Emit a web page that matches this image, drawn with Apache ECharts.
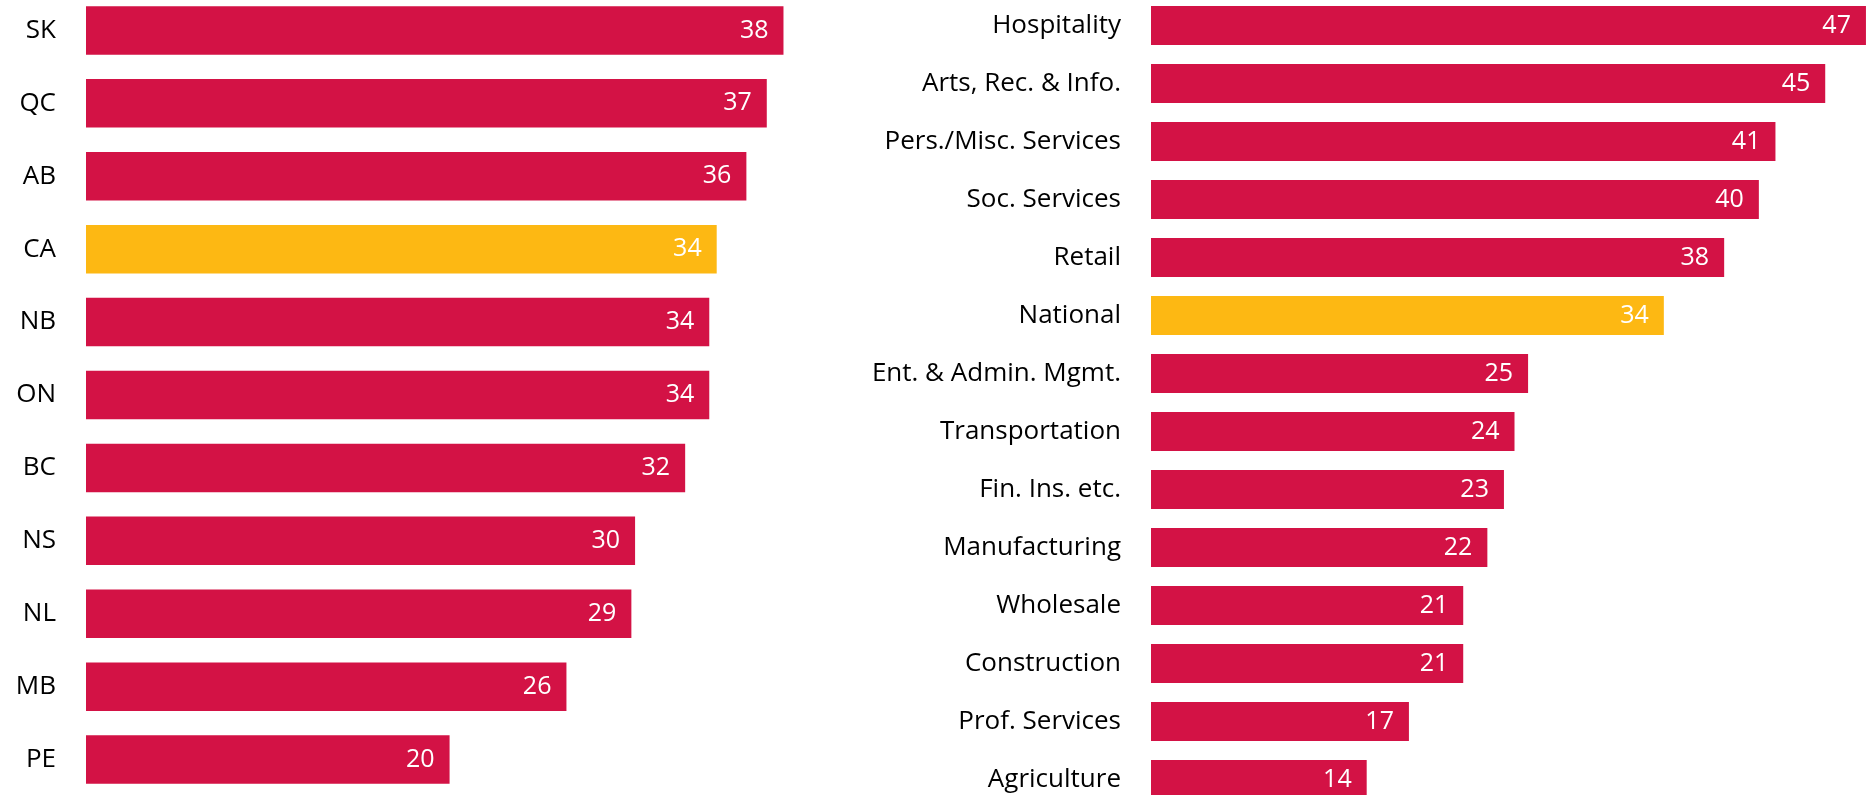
<!DOCTYPE html>
<html>
<head>
<meta charset="utf-8">
<script src="https://cdn.jsdelivr.net/npm/echarts@6/dist/echarts.min.js"></script>
<style>
  html, body { margin: 0; padding: 0; background: #fff; overflow: hidden; }
  /* canvas is taller than the window so the outer bars can be cut at the edges */
  #chart { position: relative; top: -20px; width: 1875px; height: 840px; }
</style>
</head>
<body>
<div id="chart"></div>
<script>
// left panel: provinces (CA = national average)
const provinces = ["SK", "QC", "AB", "CA", "NB", "ON", "BC", "NS", "NL", "MB", "PE"]
const provinceValues = [37.6, 36.7, 35.6, 34.0, 33.6, 33.6, 32.3, 29.6, 29.4, 25.9, 19.6]

// right panel: industries
const industries = [
  "Hospitality", "Arts, Rec. & Info.", "Pers./Misc. Services", "Soc. Services", "Retail",
  "National", "Ent. & Admin. Mgmt.", "Transportation", "Fin. Ins. etc.", "Manufacturing",
  "Wholesale", "Construction", "Prof. Services", "Agriculture"
]
const industryValues = [47.4, 44.7, 41.4, 40.3, 38.0, 34.0, 25.0, 24.1, 23.4, 22.3, 20.7, 20.7, 17.1, 14.3]

const highlighted = ["CA", "National"]

const RED = "#d31245"
const GOLD = "#fdb813"
const FONT = "'Open Sans', 'Noto Sans', sans-serif"
const SHIFT = 20 // matches the -20px offset of the container

const chart = echarts.init(document.getElementById("chart"), null, { renderer: "canvas" })

function barData(names, values) {
  return values.map((v, i) => ({
    value: v,
    itemStyle: { color: highlighted.includes(names[i]) ? GOLD : RED }
  }))
}

function categoryAxis(gridIndex, names) {
  return {
    type: "category",
    gridIndex: gridIndex,
    data: names,
    inverse: true,
    axisLine: { show: false },
    axisTick: { show: false },
    axisLabel: {
      interval: 0,
      margin: 30,
      color: "#000",
      fontSize: 26,
      fontFamily: FONT
    }
  }
}

function valueAxis(gridIndex, max) {
  return {
    type: "value",
    gridIndex: gridIndex,
    min: 0,
    max: max,
    show: false,
    splitLine: { show: false }
  }
}

function barSeries(index, names, values, width) {
  return {
    type: "bar",
    xAxisIndex: index,
    yAxisIndex: index,
    data: barData(names, values),
    barWidth: width,
    animation: false,
    label: {
      show: true,
      position: "insideRight",
      distance: 15,
      color: "#fff",
      fontSize: 25,
      fontFamily: FONT,
      formatter: (p) => Math.round(p.value)
    }
  }
}

chart.setOption({
  grid: [
    { left: 86, top: SHIFT - 6, width: 742, height: 802 },
    { left: 1151, top: SHIFT - 3.5, width: 724.8, height: 812 }
  ],
  xAxis: [valueAxis(0, 40), valueAxis(1, 48)],
  yAxis: [categoryAxis(0, provinces), categoryAxis(1, industries)],
  series: [
    barSeries(0, provinces, provinceValues, 48.5),
    barSeries(1, industries, industryValues, 39)
  ]
})
</script>
</body>
</html>
